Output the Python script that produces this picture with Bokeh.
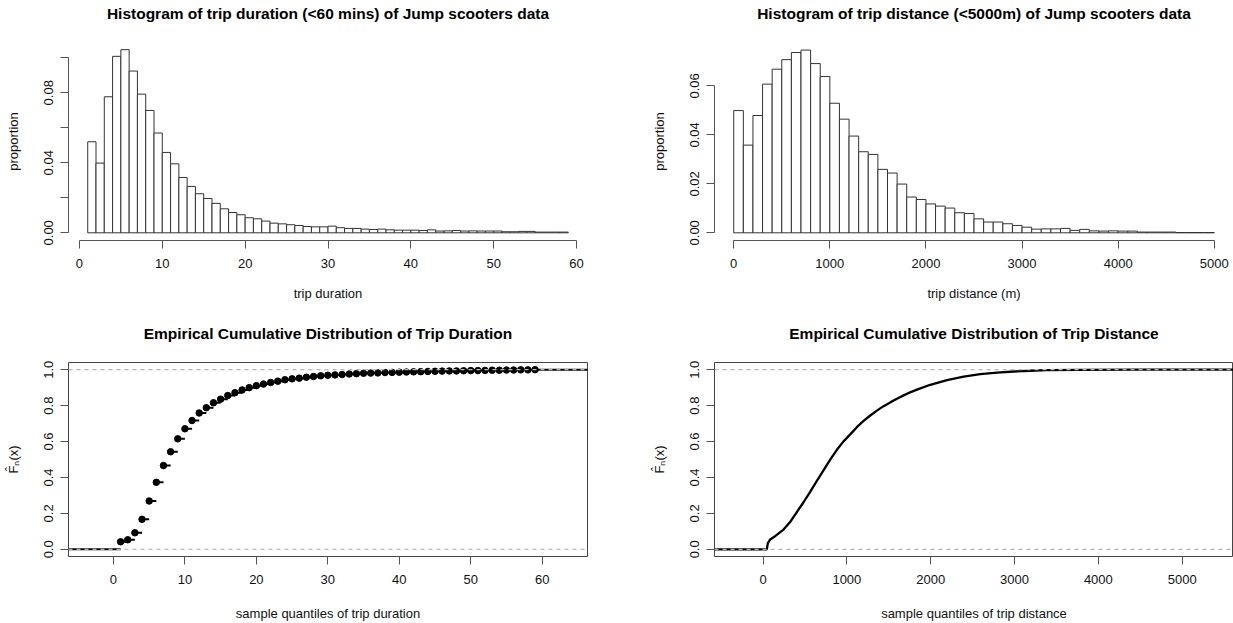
from bokeh.plotting import figure
from bokeh.layouts import column, row
from bokeh.models import FixedTicker, PrintfTickFormatter, Range1d, Span, Title
from bokeh.embed import file_html
from bokeh.resources import INLINE

# ---------------- data ----------------
dur_breaks = list(range(1, 60))
dur_props = [0.0520, 0.0398, 0.0777, 0.1008, 0.1046, 0.0924, 0.0792, 0.0699, 0.0570, 0.0459,
             0.0394, 0.0316, 0.0265, 0.0223, 0.0196, 0.0168, 0.0137, 0.0116, 0.0103, 0.0086,
             0.0080, 0.0067, 0.0055, 0.0051, 0.0046, 0.0042, 0.0036, 0.0034, 0.0034, 0.0038,
             0.0029, 0.0025, 0.0025, 0.0021, 0.0019, 0.0021, 0.0017, 0.0015, 0.0015, 0.0015,
             0.0013, 0.0017, 0.0010, 0.0011, 0.0013, 0.0010, 0.0011, 0.0010, 0.0010, 0.0010,
             0.0006, 0.0006, 0.0008, 0.0008, 0.0004, 0.0004, 0.0004, 0.0004]

dist_breaks = list(range(0, 5001, 100))
dist_props = [0.0499, 0.0358, 0.0479, 0.0607, 0.0668, 0.0707, 0.0736, 0.0746, 0.0691, 0.0638,
              0.0529, 0.0464, 0.0395, 0.0331, 0.0320, 0.0259, 0.0244, 0.0199, 0.0146, 0.0136,
              0.0118, 0.0109, 0.0101, 0.0082, 0.0079, 0.0057, 0.0044, 0.0044, 0.0037, 0.0030,
              0.0023, 0.0015, 0.0016, 0.0016, 0.0018, 0.0010, 0.0014, 0.0008, 0.0007, 0.0008,
              0.0007, 0.0007, 0.0003, 0.0003, 0.0003, 0.0003, 0.0001, 0.0001, 0.0001, 0.0001]

dur_ecdf_x = list(range(1, 60))
dur_ecdf_F = [0.042, 0.053, 0.092, 0.167, 0.269, 0.373, 0.466, 0.543, 0.615, 0.671,
              0.717, 0.759, 0.788, 0.816, 0.836, 0.856, 0.872, 0.887, 0.900, 0.911,
              0.920, 0.929, 0.936, 0.944, 0.949, 0.953, 0.958, 0.962, 0.966, 0.969,
              0.971, 0.973, 0.976, 0.978, 0.980, 0.981, 0.982, 0.984, 0.985, 0.986,
              0.987, 0.988, 0.989, 0.990, 0.991, 0.992, 0.993, 0.993, 0.994, 0.995,
              0.995, 0.996, 0.997, 0.997, 0.998, 0.998, 0.999, 0.999, 1.000]

dist_ecdf_x = [45, 57, 85, 144, 244, 323, 403, 483, 562, 642, 721, 801, 881, 960, 1040,
               1119, 1199, 1279, 1358, 1438, 1517, 1597, 1677, 1756, 1836, 1995, 2194,
               2393, 2592, 2791, 2990, 3189, 3388, 3786, 4503, 5000]
dist_ecdf_F = [0.0, 0.033, 0.055, 0.073, 0.110, 0.152, 0.207, 0.262, 0.320, 0.381, 0.439,
               0.499, 0.554, 0.601, 0.640, 0.680, 0.715, 0.745, 0.772, 0.797, 0.818, 0.838,
               0.857, 0.874, 0.889, 0.916, 0.942, 0.961, 0.975, 0.984, 0.990, 0.994, 0.997,
               0.999, 1.0, 1.0]

titles = ["Histogram of trip duration (<60 mins) of Jump scooters data",
          "Histogram of trip distance (<5000m) of Jump scooters data",
          "Empirical Cumulative Distribution of Trip Duration",
          "Empirical Cumulative Distribution of Trip Distance"]

# ---------------- style helpers ----------------
FONT = "Liberation Sans"
TXT = "#111111"
AX = "#555555"


def base_fig(width, height, xr, yr, title, xlabel, ylabel, mb_left, mb_right, mb_top, mb_bottom,
             box, xlab_standoff):
    p = figure(width=width, height=height, x_range=Range1d(*xr), y_range=Range1d(*yr),
               output_backend="svg", toolbar_location=None, tools="",
               min_border_left=mb_left, min_border_right=mb_right,
               min_border_top=mb_top, min_border_bottom=mb_bottom)
    # spacer between frame and title (keeps the title high above the frame)
    p.add_layout(Title(text=" ", text_font_size="1px", standoff=13), "above")
    p.title.text = title
    p.title.align = "center"
    p.title.vertical_align = "top"
    p.title.standoff = 6
    p.title.text_font = FONT
    p.title.text_font_size = "15.5px"
    p.title.text_font_style = "bold"
    p.title.text_color = "#000000"
    p.xgrid.visible = False
    p.ygrid.visible = False
    p.background_fill_color = "white"
    p.border_fill_color = "white"
    if box:
        p.outline_line_color = "#444444"
        p.outline_line_width = 1
        p.outline_line_alpha = 1
    else:
        p.outline_line_color = None
    for ax in (p.xaxis[0], p.yaxis[0]):
        ax.axis_line_color = AX
        ax.major_tick_line_color = AX
        ax.major_tick_in = 0
        ax.major_tick_out = 8
        ax.minor_tick_line_color = None
        ax.major_label_text_font = FONT
        ax.major_label_text_font_size = "13px"
        ax.major_label_text_color = TXT
        ax.axis_label_text_font = FONT
        ax.axis_label_text_font_size = "13px"
        ax.axis_label_text_font_style = "normal"
        ax.axis_label_text_color = TXT
    p.xaxis.axis_label = xlabel
    p.yaxis.axis_label = ylabel
    p.xaxis.major_label_standoff = 10
    p.xaxis.axis_label_standoff = xlab_standoff
    p.yaxis.major_label_standoff = 7
    p.yaxis.axis_label_standoff = 21
    p.yaxis.major_label_orientation = "parallel"
    if box:
        p.xaxis.axis_line_color = None
        p.yaxis.axis_line_color = None
    return p


# ---------------- top-left: duration histogram ----------------
p1 = base_fig(616, 311, (-1.32, 61.32), (-0.0044, 0.1087), titles[0],
              "trip duration", "proportion", 68, 29, 42, 71, False, 15)
p1.quad(left=dur_breaks[:-1], right=dur_breaks[1:], bottom=0, top=dur_props,
        fill_color="white", line_color="#333333", line_width=1)
p1.xaxis.ticker = FixedTicker(ticks=[0, 10, 20, 30, 40, 50, 60])
p1.xaxis.bounds = (0, 60)
p1.yaxis.ticker = FixedTicker(ticks=[0, 0.02, 0.04, 0.06, 0.08, 0.1])
p1.yaxis.formatter = PrintfTickFormatter(format="%.2f")
p1.yaxis.major_label_overrides = {0.02: "", 0.06: "", 0.1: ""}
p1.yaxis.bounds = (0, 0.1)

# ---------------- top-right: distance histogram ----------------
p2 = base_fig(617, 311, (-200, 5200), (-0.00314, 0.0777), titles[1],
              "trip distance (m)", "proportion", 98, 0, 42, 71, False, 15)
p2.quad(left=dist_breaks[:-1], right=dist_breaks[1:], bottom=0, top=dist_props,
        fill_color="white", line_color="#333333", line_width=1)
p2.xaxis.ticker = FixedTicker(ticks=[0, 1000, 2000, 3000, 4000, 5000])
p2.xaxis.bounds = (0, 5000)
p2.yaxis.ticker = FixedTicker(ticks=[0, 0.02, 0.04, 0.06])
p2.yaxis.formatter = PrintfTickFormatter(format="%.2f")
p2.yaxis.bounds = (0, 0.06)

FHAT = "F\u0302\u2099(x)"

# ---------------- bottom-left: duration ECDF ----------------
xr3 = (-6.29, 66.34)
p3 = base_fig(616, 312, xr3, (-0.04, 1.04), titles[2],
              "sample quantiles of trip duration", FHAT, 68, 29, 51, 63, True, 19)
p3.segment(x0=dur_ecdf_x[:-1], y0=dur_ecdf_F[:-1], x1=dur_ecdf_x[1:], y1=dur_ecdf_F[:-1],
           line_color="black", line_width=2)
p3.segment(x0=[xr3[0], dur_ecdf_x[-1]], y0=[0, dur_ecdf_F[-1]],
           x1=[dur_ecdf_x[0], xr3[1]], y1=[0, dur_ecdf_F[-1]],
           line_color="black", line_width=2)
for h in (0, 1):
    p3.add_layout(Span(location=h, dimension="width", line_color="#b8b8b8",
                       line_dash="4 4", line_width=1.2))
p3.scatter(dur_ecdf_x, dur_ecdf_F, size=6.5, fill_color="black", line_color="black")
p3.xaxis.ticker = FixedTicker(ticks=[0, 10, 20, 30, 40, 50, 60])
p3.yaxis.ticker = FixedTicker(ticks=[0, 0.2, 0.4, 0.6, 0.8, 1.0])
p3.yaxis.formatter = PrintfTickFormatter(format="%.1f")

# ---------------- bottom-right: distance ECDF ----------------
xr4 = (-579, 5612)
p4 = base_fig(617, 312, xr4, (-0.04, 1.04), titles[3],
              "sample quantiles of trip distance", FHAT, 98, 0, 51, 63, True, 19)
p4.line([xr4[0]] + dist_ecdf_x + [xr4[1]], [0] + dist_ecdf_F + [1],
        line_color="black", line_width=2.3)
for h in (0, 1):
    p4.add_layout(Span(location=h, dimension="width", line_color="#b8b8b8",
                       line_dash="4 4", line_width=1.2))
p4.xaxis.ticker = FixedTicker(ticks=[0, 1000, 2000, 3000, 4000, 5000])
p4.yaxis.ticker = FixedTicker(ticks=[0, 0.2, 0.4, 0.6, 0.8, 1.0])
p4.yaxis.formatter = PrintfTickFormatter(format="%.1f")

layout = column(row(p1, p2), row(p3, p4))
open("out.html", "w").write(file_html(layout, INLINE))
